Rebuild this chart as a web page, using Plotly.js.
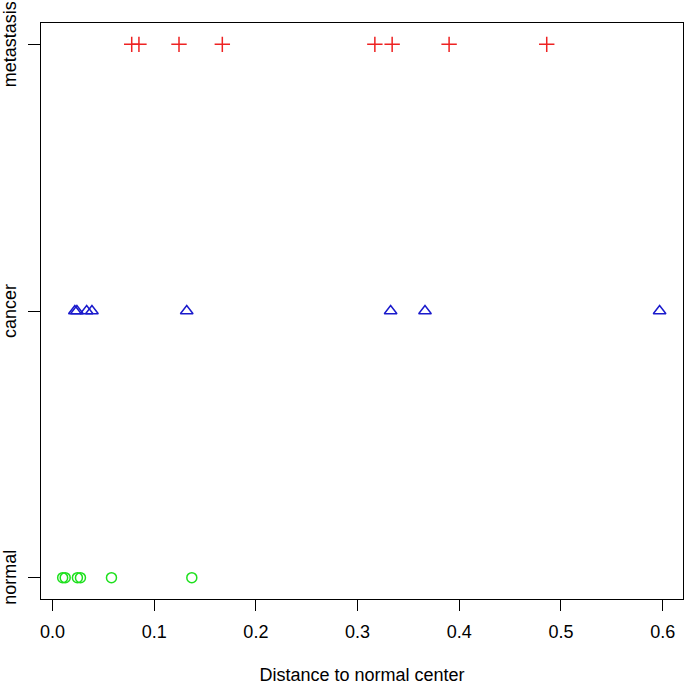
<!DOCTYPE html>
<html>
<head>
<meta charset="utf-8">
<script src="https://cdn.plot.ly/plotly-3.0.1.min.js"></script>
<style>html,body{margin:0;padding:0;background:#fff;}#chart{width:685px;height:685px;}</style>
</head>
<body>
<div id="chart"></div>
<script>
const categories = ["normal", "cancer", "metastasis"];
const normalValues = [0.0100, 0.0125, 0.0245, 0.0275, 0.058, 0.137];
const cancerValues = [0.022, 0.024, 0.0336, 0.0388, 0.132, 0.3325, 0.3663, 0.597];
const metastasisValues = [0.0779, 0.085, 0.1244, 0.167, 0.317, 0.334, 0.390, 0.486];
const xTicks = [0.0, 0.1, 0.2, 0.3, 0.4, 0.5, 0.6];
const xTickLabels = ["0.0", "0.1", "0.2", "0.3", "0.4", "0.5", "0.6"];

function level(name, n) { return Array(n).fill(categories.indexOf(name) + 1); }

const traces = [
  {x: normalValues, y: level("normal", normalValues.length), type: "scatter", mode: "markers",
   marker: {symbol: "circle-open", size: 10, color: "#1EE01E", line: {width: 1.5, color: "#1EE01E"}}},
  {x: cancerValues, y: level("cancer", cancerValues.length), type: "scatter", mode: "markers",
   marker: {symbol: "triangle-up-open", size: 11, color: "#1A1ACC", line: {width: 1.5, color: "#1A1ACC"}}},
  {x: metastasisValues, y: level("metastasis", metastasisValues.length), type: "scatter", mode: "markers",
   marker: {symbol: "cross-thin-open", size: 11, color: "#EE2222", line: {width: 1.5, color: "#EE2222"}}}
];

const font = {family: "Liberation Sans, Arial, Helvetica, sans-serif", size: 18, color: "#000"};

const yLabelAnnotations = categories.map((c, i) => ({
  text: c, x: 0, xref: "paper", y: i + 1, yref: "y",
  xanchor: "center", yanchor: "middle", xshift: -31,
  textangle: -90, showarrow: false, font: font
}));

const layout = {
  width: 685, height: 685,
  margin: {l: 41, r: 2, t: 23, b: 86},
  showlegend: false,
  paper_bgcolor: "#fff", plot_bgcolor: "#fff",
  font: font,
  annotations: yLabelAnnotations,
  xaxis: {
    range: [-0.0113, 0.620],
    tickvals: xTicks, ticktext: xTickLabels,
    ticks: "outside", ticklen: 11, tickwidth: 1, tickcolor: "#000",
    showline: true, mirror: true, linecolor: "#000", linewidth: 1,
    showgrid: false, zeroline: false,
    tickfont: font, ticklabelstandoff: 5,
    title: {text: "Distance to normal center", font: font, standoff: 28}
  },
  yaxis: {
    range: [0.92, 3.08],
    tickvals: [1, 2, 3], showticklabels: false,
    ticks: "outside", ticklen: 12, tickwidth: 1, tickcolor: "#000",
    showline: true, mirror: true, linecolor: "#000", linewidth: 1,
    showgrid: false, zeroline: false
  }
};

Plotly.newPlot("chart", traces, layout, {displayModeBar: false, staticPlot: true});
</script>
</body>
</html>
